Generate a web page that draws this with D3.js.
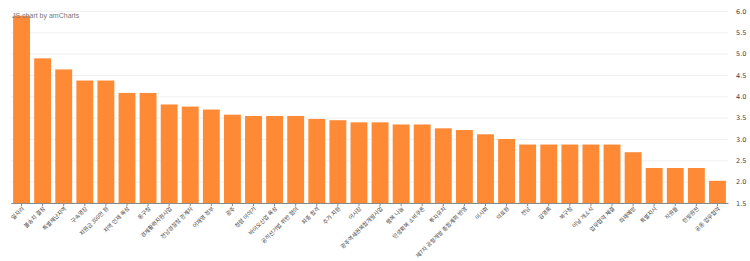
<!DOCTYPE html>
<html lang="ko">
  <head>
    <meta charset="utf-8">
    <title>Keyword scores</title>
    <script src="https://cdn.jsdelivr.net/npm/d3@7"></script>
    <style>
      body { margin: 0; background: #fff; }
      svg { display: block; }
    </style>
  </head>
  <body>
    <script type="text/javascript">
      // categories and values
      var keywords = [
        "일자리", "불송치 결정", "특별재난지역", "구속영장", "지원금 300만 원",
        "지역 인재 육성", "동구청", "경제활력지원사업", "전남경찰청 관계자", "이재명 정부",
        "광주", "청렴 이야기", "바이오산업 육성", "공직선거법 위반 혐의", "최종 합격",
        "추가 지원", "이사장", "광주역세권복합개발사업", "행복 나눔", "민생회복 소비쿠폰",
        "투자유치", "제7차 공항개발 종합계획 반영", "이사회", "의료원", "전남",
        "김영록", "북구청", "이날 개소식", "업무협약 체결", "화재예방",
        "특별지시", "직원들", "한빛원전", "공동 업무협약"
      ];
      var scores = [
        5.89, 4.89, 4.63, 4.37, 4.37,
        4.08, 4.08, 3.81, 3.76, 3.69,
        3.57, 3.54, 3.54, 3.54, 3.47,
        3.44, 3.39, 3.39, 3.34, 3.34,
        3.25, 3.21, 3.11, 3.00, 2.87,
        2.87, 2.87, 2.87, 2.87, 2.69,
        2.32, 2.32, 2.32, 2.02
      ];
      var yTicks = [1.5, 2.0, 2.5, 3.0, 3.5, 4.0, 4.5, 5.0, 5.5, 6.0];

      function draw() {
        var width = 750, height = 261;
        var plotLeft = 11, plotRight = 728, plotTop = 11, plotBottom = 203;

        var data = keywords.map(function (k, i) { return { name: k, value: scores[i] }; });

        var svg = d3.select("body")
          .append("svg")
            .attr("width", width)
            .attr("height", height);

        var x = d3.scaleBand()
          .domain(keywords)
          .range([plotLeft, plotRight])
          .paddingInner(0.2)
          .paddingOuter(0.1);

        var y = d3.scaleLinear()
          .domain([1.5, 6.0])
          .range([plotBottom, plotTop]);

        // faint grid
        svg.append("g")
          .selectAll("line")
          .data(yTicks)
          .enter()
          .append("line")
            .attr("x1", plotLeft)
            .attr("x2", plotRight)
            .attr("y1", function (d) { return y(d) + 0.5; })
            .attr("y2", function (d) { return y(d) + 0.5; })
            .attr("stroke", "#f0f0f0")
            .attr("stroke-width", 1);

        // bars
        svg.append("g")
          .selectAll("rect")
          .data(data)
          .enter()
          .append("rect")
            .attr("x", function (d) { return x(d.name); })
            .attr("width", x.bandwidth())
            .attr("y", function (d) { return y(d.value); })
            .attr("height", function (d) { return plotBottom - y(d.value); })
            .attr("fill", "#fe8a35");

        // right value axis
        var yAxis = svg.append("g")
          .attr("transform", "translate(" + (plotRight + 5) + ",0)")
          .call(d3.axisRight(y).tickValues(yTicks).tickFormat(d3.format(".1f")).tickSize(0));
        yAxis.select(".domain").remove();
        yAxis.selectAll("text")
          .attr("font-family", "'DejaVu Sans', sans-serif")
          .attr("font-size", "6.5px")
          .attr("fill", "#444");

        // bottom category axis
        var xAxis = svg.append("g")
          .attr("transform", "translate(0," + plotBottom + ")")
          .call(d3.axisBottom(x).tickSize(3).tickSizeOuter(0));
        xAxis.select(".domain").attr("stroke", "#8a8a8a");
        xAxis.selectAll(".tick line").attr("stroke", "#8a8a8a");
        xAxis.selectAll("text")
          .attr("font-family", "'Noto Sans CJK KR', sans-serif")
          .attr("font-size", "5.6px")
          .attr("fill", "#444")
          .attr("text-anchor", "end")
          .attr("dy", "0")
          .attr("y", 0)
          .attr("transform", "translate(3,6) rotate(-45)");

        // credit line
        svg.append("text")
          .attr("x", 12)
          .attr("y", 18)
          .attr("font-family", "'Liberation Sans', Arial, sans-serif")
          .attr("font-size", "7px")
          .attr("fill", "#777")
          .text("JS chart by amCharts");
      }

      draw();
    </script>
  </body>
</html>
